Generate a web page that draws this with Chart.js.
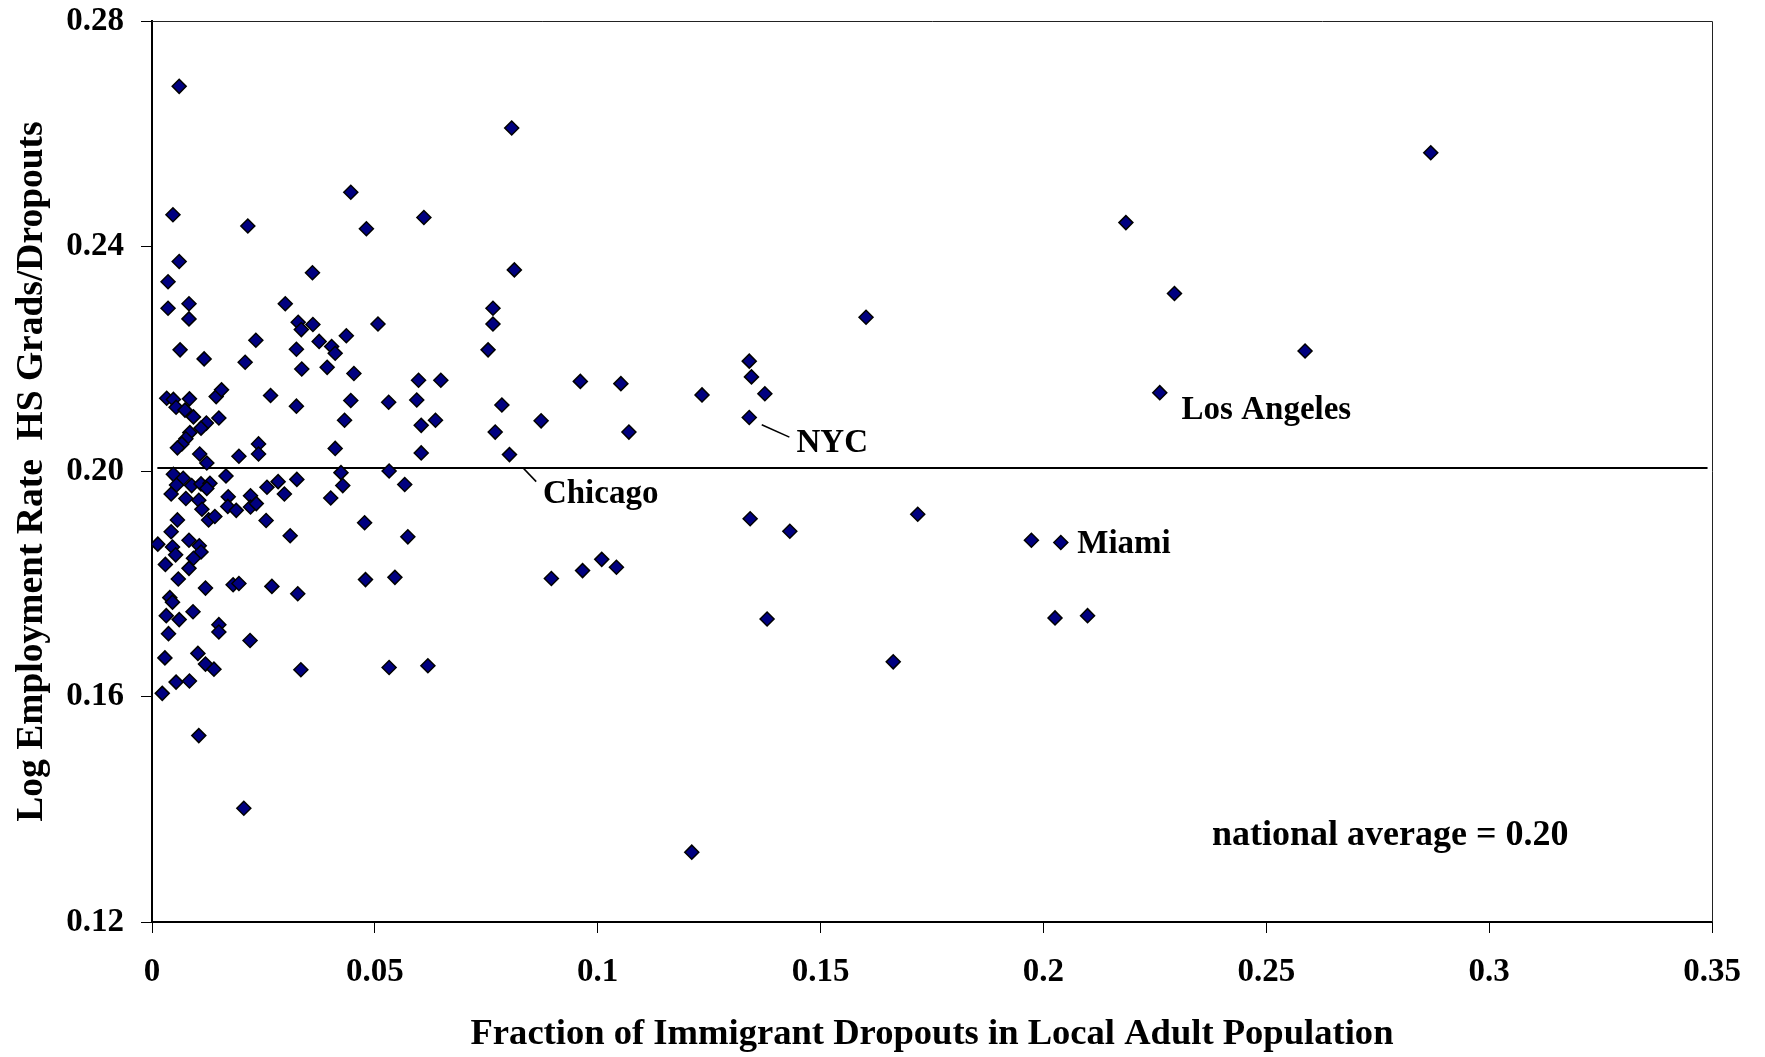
<!DOCTYPE html>
<html>
<head>
<meta charset="utf-8">
<title>Immigrant dropouts vs employment rate</title>
<script src="https://cdn.jsdelivr.net/npm/chart.js@4.4.1/dist/chart.umd.min.js"></script>
<style>
  html, body { margin: 0; padding: 0; background: #fff; }
  #wrap { width: 1765px; height: 1057px; }
</style>
</head>
<body>
<div id="wrap"><canvas id="scatterChart" width="1765" height="1057"></canvas></div>
<script>
// --------------------
// Data
// --------------------
const fractionVals = [
  0.0061, 0.0047, 0.0215, 0.0446, 0.0481, 0.0610, 0.0061, 0.0036, 0.0360, 0.0036,
  0.0083, 0.0299, 0.0083, 0.0328, 0.0335, 0.0361, 0.0507, 0.0063, 0.0117, 0.0209,
  0.0233, 0.0324, 0.0375, 0.0436, 0.0403, 0.0411, 0.0336, 0.0393, 0.0453, 0.0598,
  0.0648, 0.0033, 0.0048, 0.0054, 0.0084, 0.0074, 0.0093, 0.0144, 0.0156, 0.0150,
  0.0122, 0.0110, 0.0085, 0.0076, 0.0067, 0.0057, 0.0266, 0.0324, 0.0107, 0.0123,
  0.0195, 0.0239, 0.0239, 0.0411, 0.0446, 0.0531, 0.0594, 0.0604, 0.0636, 0.0432,
  0.0604, 0.0424, 0.0532, 0.0428, 0.0567, 0.0048, 0.0070, 0.0055, 0.0089, 0.0110,
  0.0130, 0.0123, 0.0043, 0.0166, 0.0076, 0.0105, 0.0112, 0.0171, 0.0221, 0.0170,
  0.0189, 0.0221, 0.0234, 0.0127, 0.0141, 0.0258, 0.0283, 0.0297, 0.0325, 0.0256,
  0.0401, 0.0477, 0.0057, 0.0043, 0.0083, 0.0013, 0.0046, 0.0106, 0.0110, 0.0053,
  0.0093, 0.0310, 0.0574, 0.0030, 0.0083, 0.0059, 0.0120, 0.0182, 0.0195, 0.0269,
  0.0327, 0.0479, 0.0545, 0.0040, 0.0046, 0.0092, 0.0032, 0.0061, 0.0150, 0.0150,
  0.0037, 0.0220, 0.0029, 0.0103, 0.0120, 0.0139, 0.0334, 0.0532, 0.0619, 0.0054,
  0.0084, 0.0023, 0.0105, 0.0206,
  0.0807, 0.0813, 0.0765, 0.0765, 0.0754, 0.0785, 0.0770, 0.0802,
  0.2869, 0.2185, 0.2294, 0.2587, 0.2261, 0.1602, 0.2039, 0.1973, 0.2026, 0.2099,
  0.1718, 0.1663, 0.1211, 0.1340, 0.1345, 0.1375, 0.1340, 0.1342, 0.1431, 0.1380,
  0.1234, 0.0961, 0.1052, 0.1070, 0.0873, 0.0896, 0.0966, 0.1009, 0.1042
];
const logRatioVals = [
  0.2684, 0.2456, 0.2436, 0.2496, 0.2431, 0.2451, 0.2373, 0.2337, 0.2353, 0.2290,
  0.2298, 0.2298, 0.2271, 0.2265, 0.2252, 0.2261, 0.2262, 0.2216, 0.2200, 0.2194,
  0.2233, 0.2217, 0.2231, 0.2241, 0.2222, 0.2210, 0.2182, 0.2185, 0.2174, 0.2162,
  0.2162, 0.2130, 0.2128, 0.2114, 0.2129, 0.2109, 0.2097, 0.2133, 0.2145, 0.2095,
  0.2086, 0.2077, 0.2069, 0.2058, 0.2049, 0.2042, 0.2135, 0.2116, 0.2031, 0.2015,
  0.2027, 0.2049, 0.2031, 0.2041, 0.2126, 0.2123, 0.2127, 0.2082, 0.2091, 0.2091,
  0.2033, 0.1998, 0.2001, 0.1975, 0.1977, 0.1995, 0.1988, 0.1976, 0.1975, 0.1978,
  0.1979, 0.1970, 0.1960, 0.1992, 0.1952, 0.1949, 0.1933, 0.1955, 0.1957, 0.1938,
  0.1931, 0.1937, 0.1943, 0.1914, 0.1920, 0.1972, 0.1982, 0.1960, 0.1986, 0.1913,
  0.1953, 0.1909, 0.1914, 0.1893, 0.1878, 0.1871, 0.1866, 0.1868, 0.1857, 0.1852,
  0.1846, 0.1886, 0.1884, 0.1835, 0.1828, 0.1809, 0.1793, 0.1799, 0.1801, 0.1796,
  0.1783, 0.1808, 0.1812, 0.1776, 0.1768, 0.1751, 0.1744, 0.1737, 0.1728, 0.1715,
  0.1712, 0.1700, 0.1669, 0.1677, 0.1658, 0.1649, 0.1648, 0.1652, 0.1655, 0.1626,
  0.1628, 0.1606, 0.1531, 0.1402,
  0.2610, 0.2358, 0.2290, 0.2262, 0.2216, 0.2118, 0.2070, 0.2030,
  0.2566, 0.2442, 0.2316, 0.2214, 0.2140, 0.2274, 0.1874, 0.1878, 0.1740, 0.1744,
  0.1924, 0.1662, 0.1324, 0.2196, 0.2168, 0.2138, 0.2096, 0.1916, 0.1894, 0.1738,
  0.2136, 0.2160, 0.2156, 0.2070, 0.2090, 0.1810, 0.1824, 0.1844, 0.1830
];

const xTicks = [0, 0.05, 0.1, 0.15, 0.2, 0.25, 0.3, 0.35];
const xTickLabels = ["0", "0.05", "0.1", "0.15", "0.2", "0.25", "0.3", "0.35"];
const yTicks = [0.12, 0.16, 0.20, 0.24, 0.28];
const yTickLabels = ["0.12", "0.16", "0.20", "0.24", "0.28"];

// national average line
const nationalAvg = 0.2006;
const avgLineX = [0.0012, 0.3490];

// city labels and leader lines
const cityLabels = ["Chicago", "NYC", "Los Angeles", "Miami", "national average = 0.20"];
const cityLabelX = [0.0877, 0.1446, 0.2310, 0.2076, 0.2378];
const cityLabelY = [0.1960, 0.2050, 0.2108, 0.1871, 0.1353];
const cityLabelSize = [33, 33, 33, 33, 36];
const chicagoLeaderX = [0.0833, 0.0862];
const chicagoLeaderY = [0.2006, 0.1982];
const nycLeaderX = [0.1368, 0.1430];
const nycLeaderY = [0.2083, 0.2061];

const FONT = '"Liberation Serif", "Times New Roman", serif';

// --------------------
// Plugins
// --------------------
const frameBox = {
  id: 'frameBox',
  afterDraw(chart) {
    const { ctx, chartArea: a } = chart;
    ctx.save();
    ctx.strokeStyle = '#222';
    ctx.lineWidth = 1;
    ctx.beginPath();
    ctx.moveTo(a.left, a.top + 0.5);
    ctx.lineTo(a.right + 0.5, a.top + 0.5);
    ctx.lineTo(a.right + 0.5, a.bottom);
    ctx.stroke();
    ctx.restore();
  }
};

const labelText = {
  id: 'labelText',
  afterDatasetsDraw(chart) {
    const { ctx, scales: { x, y } } = chart;
    ctx.save();
    ctx.fillStyle = '#000';
    ctx.textAlign = 'left';
    ctx.textBaseline = 'middle';
    cityLabels.forEach((t, i) => {
      ctx.font = 'bold ' + cityLabelSize[i] + 'px ' + FONT;
      ctx.fillText(t, x.getPixelForValue(cityLabelX[i]), y.getPixelForValue(cityLabelY[i]));
    });
    ctx.restore();
  }
};

// --------------------
// Chart
// --------------------
const points = fractionVals.map((v, i) => ({ x: v, y: logRatioVals[i] }));
const toXY = (xs, ys) => xs.map((v, i) => ({ x: v, y: ys[i] }));

new Chart(document.getElementById('scatterChart'), {
  type: 'scatter',
  data: {
    datasets: [
      {
        data: points,
        pointStyle: 'rectRot',
        pointRadius: 7,
        backgroundColor: '#000080',
        borderColor: '#000',
        borderWidth: 1.5
      },
      {
        type: 'line',
        data: toXY(avgLineX, [nationalAvg, nationalAvg]),
        borderColor: '#000',
        borderWidth: 2,
        pointRadius: 0
      },
      {
        type: 'line',
        data: toXY(chicagoLeaderX, chicagoLeaderY),
        borderColor: '#000',
        borderWidth: 1.5,
        pointRadius: 0
      },
      {
        type: 'line',
        data: toXY(nycLeaderX, nycLeaderY),
        borderColor: '#000',
        borderWidth: 1.5,
        pointRadius: 0
      }
    ]
  },
  options: {
    responsive: false,
    animation: false,
    layout: { padding: { top: 21, right: 53, left: 0, bottom: 0 } },
    plugins: { legend: { display: false }, tooltip: { enabled: false } },
    scales: {
      x: {
        type: 'linear',
        min: 0,
        max: 0.35,
        afterBuildTicks: s => { s.ticks = xTicks.map(v => ({ value: v })); },
        afterFit: s => { s.height = 135; s.paddingLeft = 0; s.paddingRight = 0; },
        ticks: {
          color: '#000',
          padding: 20,
          maxRotation: 0,
          font: { family: FONT, size: 33, weight: 'bold' },
          callback: (v, i) => xTickLabels[i]
        },
        grid: { drawOnChartArea: false, tickLength: 11, color: '#000', lineWidth: 1 },
        border: { display: true, color: '#000', width: 2 },
        title: {
          display: true,
          text: 'Fraction of Immigrant Dropouts in Local Adult Population',
          color: '#000',
          padding: { top: 0, bottom: 0 },
          font: { family: FONT, size: 36.6, weight: 'bold' }
        }
      },
      y: {
        type: 'linear',
        min: 0.12,
        max: 0.28,
        afterBuildTicks: s => { s.ticks = yTicks.map(v => ({ value: v })); },
        afterFit: s => { s.width = 152; s.paddingTop = 0; s.paddingBottom = 0; },
        ticks: {
          color: '#000',
          padding: 17,
          font: { family: FONT, size: 33, weight: 'bold' },
          callback: (v, i) => yTickLabels[i]
        },
        grid: { drawOnChartArea: false, tickLength: 11, color: '#000', lineWidth: 1 },
        border: { display: true, color: '#000', width: 2 },
        title: {
          display: true,
          text: 'Log Employment Rate  HS Grads/Dropouts',
          color: '#000',
          padding: { top: 10, bottom: 0 },
          font: { family: FONT, size: 37.5, weight: 'bold' }
        }
      }
    }
  },
  plugins: [frameBox, labelText]
});
</script>
</body>
</html>
